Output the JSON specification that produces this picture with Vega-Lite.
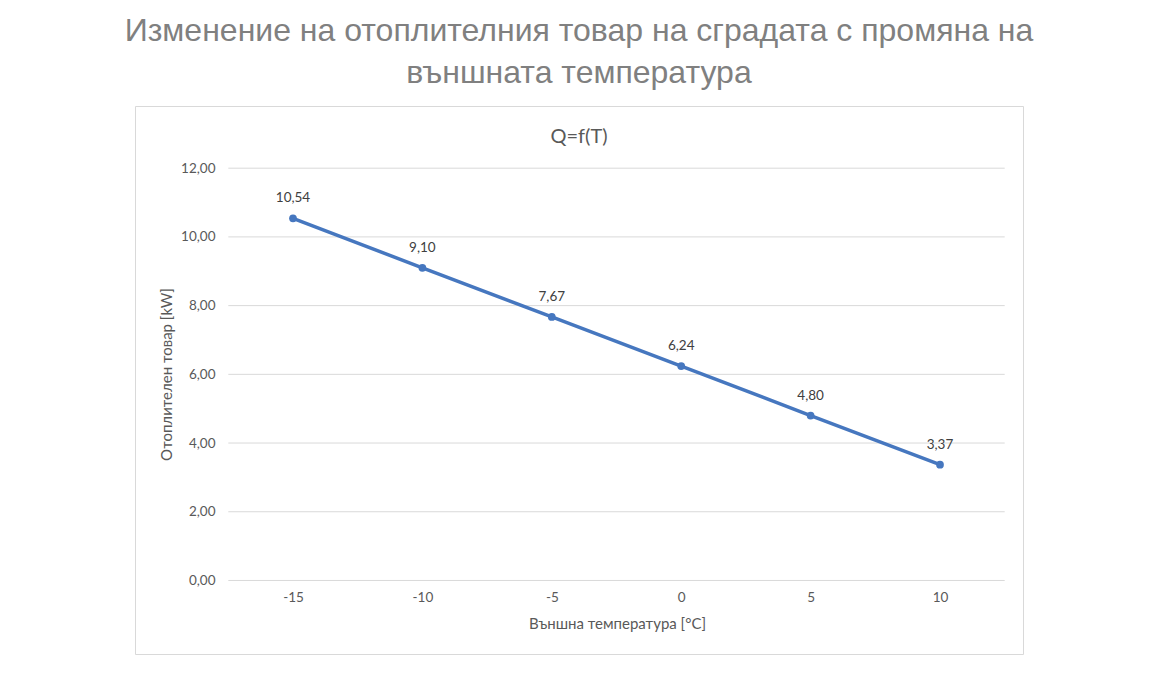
{
  "$schema": "https://vega.github.io/schema/vega-lite/v6.json",
  "description": "Heating load vs outside temperature",
  "autosize": {"type": "none"},
  "width": 888,
  "height": 548,
  "padding": {"left": 135, "top": 106, "right": 145, "bottom": 33},
  "title": {
    "text": ["Изменение на отоплителния товар на сградата с промяна на", "външната температура"],
    "subtitle": "Q=f(T)",
    "anchor": "middle",
    "frame": "group",
    "offset": -42,
    "font": "Liberation Sans",
    "fontSize": 32,
    "fontWeight": "normal",
    "color": "#808080",
    "lineHeight": 42,
    "subtitleFont": "Lato",
    "subtitleFontSize": 20,
    "subtitleColor": "#595959",
    "subtitlePadding": 37
  },
  "data": {
    "values": [
      {"T": -15, "Q": 10.54},
      {"T": -10, "Q": 9.10},
      {"T": -5, "Q": 7.67},
      {"T": 0, "Q": 6.24},
      {"T": 5, "Q": 4.80},
      {"T": 10, "Q": 3.37}
    ]
  },
  "layer": [
    {
      "data": {"values": [{"g": 0}, {"g": 2}, {"g": 4}, {"g": 6}, {"g": 8}, {"g": 10}, {"g": 12}]},
      "mark": {"type": "rule", "color": "#d9d9d9", "strokeWidth": 1},
      "encoding": {
        "y": {"field": "g", "type": "quantitative"},
        "x": {"datum": -17.5, "type": "quantitative"},
        "x2": {"datum": 12.5}
      }
    },
    {
      "mark": {"type": "line", "color": "#4677bf", "strokeWidth": 3.5, "point": {"filled": true, "size": 60, "color": "#4677bf"}},
      "encoding": {
        "x": {
          "field": "T",
          "type": "quantitative",
          "scale": {"domain": [-21.105, 13.207], "nice": false, "zero": false},
          "axis": {
            "title": "Външна температура [°C]",
            "values": [-15, -10, -5, 0, 5, 10],
            "domain": false,
            "ticks": false,
            "grid": false,
            "offset": -73.5,
            "labelPadding": 10,
            "titleX": 482,
            "titlePadding": 12
          }
        },
        "y": {
          "field": "Q",
          "type": "quantitative",
          "scale": {"domain": [-2.14, 13.81], "nice": false, "zero": false},
          "axis": {
            "title": "Отоплителен товар [kW]",
            "values": [0, 2, 4, 6, 8, 10, 12],
            "format": ".2f",
            "domain": false,
            "ticks": false,
            "grid": false,
            "offset": -94,
            "labelPadding": 14,
            "titleY": 268,
            "titlePadding": 6
          }
        }
      }
    },
    {
      "mark": {"type": "text", "dy": -16, "baseline": "alphabetic", "font": "Lato", "fontSize": 13.5, "color": "#404040"},
      "encoding": {
        "x": {"field": "T", "type": "quantitative"},
        "y": {"field": "Q", "type": "quantitative"},
        "text": {"field": "Q", "type": "quantitative", "format": ".2f"}
      }
    }
  ],
  "config": {
    "locale": {"number": {"decimal": ",", "thousands": " ", "grouping": [3], "currency": ["", ""], "minus": "-"}},
    "view": {"stroke": "#d9d9d9", "strokeWidth": 1},
    "axis": {
      "labelFont": "Lato",
      "labelFontSize": 13.5,
      "labelColor": "#595959",
      "titleFont": "Lato",
      "titleFontSize": 15,
      "titleFontWeight": "normal",
      "titleColor": "#595959"
    }
  }
}
